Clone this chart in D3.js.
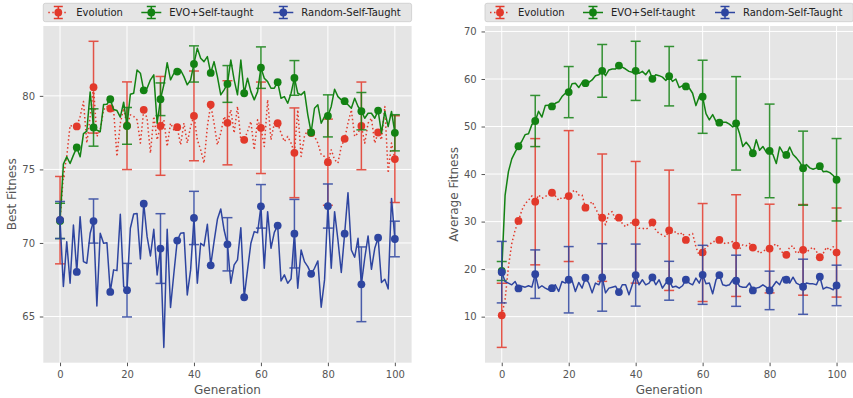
<!DOCTYPE html>
<html>
<head>
<meta charset="utf-8">
<script src="https://cdn.jsdelivr.net/npm/d3@7"></script>
<style>
  body { margin: 0; background: #ffffff; }
  svg { font-family: "DejaVu Sans", sans-serif; }
</style>
</head>
<body>
<div id="chart"></div>
<script>
// generations on the x axis, markers every 5, error bars every 10
var generations = d3.range(0, 101);
var markerGens = d3.range(0, 101, 5);
var errorGens = [0, 10, 20, 30, 40, 50, 60, 70, 80, 90, 100];
var seriesNames = ["Evolution", "EVO+Self-taught", "Random-Self-Taught"];

var genTicks = [0, 20, 40, 60, 80, 100];
var bestTicks = [65, 70, 75, 80];
var avgTicks = [10, 20, 30, 40, 50, 60, 70];

// ---- Best fitness (left panel)
var bestEvolution = [
  71.55, 74.55, 75.86, 78.0, 77.9, 77.92, 78.6, 79.62, 76.79, 78.6,
  80.59, 77.24, 77.69, 79.05, 79.28, 79.14, 79.05, 75.88, 78.14, 79.16,
  77.97, 78.71, 78.6, 78.37, 76.79, 79.05, 78.48, 76.11, 78.6, 77.01,
  77.96, 78.37, 76.56, 78.14, 77.69, 77.87, 76.67, 78.14, 76.79, 77.92,
  78.64, 77.01, 76.33, 75.43, 77.92, 79.41, 78.14, 76.67, 77.47, 78.6,
  78.17, 79.05, 77.47, 79.28, 77.01, 77.01, 77.58, 78.26, 76.33, 78.37,
  77.83, 76.56, 79.73, 77.01, 78.14, 78.14, 77.47, 76.9, 77.24, 76.79,
  76.13, 79.05, 75.88, 77.24, 77.69, 77.47, 77.24, 76.79, 76.0, 75.88,
  75.49, 76.33, 75.66, 75.43, 76.56, 77.08, 78.14, 79.05, 77.24, 77.47,
  77.96, 76.79, 78.14, 78.48, 76.79, 77.51, 77.01, 79.28, 74.75, 76.79,
  75.7
];
var bestSelfTaught = [
  71.5, 75.36, 75.86, 75.4, 75.97, 76.49, 75.86, 77.44, 77.6, 80.27,
  77.85, 77.67, 77.56, 79.41, 79.43, 79.77, 79.07, 79.0, 78.55, 79.57,
  77.96, 80.11, 80.18, 81.76, 81.54, 80.38, 80.52, 81.09, 81.43, 78.14,
  79.77, 80.75, 82.26, 81.09, 81.54, 81.65, 81.76, 81.31, 80.75, 81.09,
  82.17, 83.24, 82.56, 82.33, 82.67, 81.56, 82.33, 81.31, 80.07, 80.41,
  80.81, 82.44, 81.09, 80.07, 82.44, 80.18, 81.2, 80.29, 79.73, 80.29,
  81.92, 81.2, 80.97, 80.52, 80.52, 80.93, 79.84, 79.95, 79.5, 80.18,
  81.22, 80.18, 80.07, 80.29, 78.71, 77.51, 79.16, 79.39, 78.14, 78.6,
  78.64, 79.28, 80.45, 79.95, 79.73, 79.64, 79.39, 79.16, 79.84, 79.28,
  78.96, 78.48, 78.82, 78.82, 78.48, 79.0, 77.47, 78.94, 77.92, 78.94,
  77.49
];
var bestRandom = [
  71.56, 67.04, 70.09, 67.26, 71.22, 68.03, 71.79, 68.73, 68.62, 70.66,
  71.49, 65.72, 70.66, 69.98, 70.02, 66.67, 68.17, 68.12, 71.95, 67.04,
  66.79, 71.0, 71.97, 72.01, 68.91, 72.67, 70.43, 69.12, 70.93, 67.83,
  69.62, 62.9, 70.93, 65.61, 67.94, 70.16, 70.66, 70.7, 66.47, 68.17,
  71.7, 67.26, 69.98, 69.8, 71.27, 68.48, 70.09, 71.61, 72.31, 70.88,
  69.91, 67.26, 68.51, 68.85, 71.04, 66.31, 68.17, 69.98, 70.77, 70.7,
  72.49, 68.28, 72.13, 69.64, 70.72, 71.18, 67.42, 67.83, 67.26, 67.56,
  70.63, 66.92, 69.52, 68.73, 68.39, 67.9, 68.28, 68.78, 65.63, 67.49,
  72.51, 68.28, 72.13, 70.2, 67.99, 70.63, 73.42, 69.52, 69.03, 70.32,
  67.19, 68.96, 70.48, 68.21, 69.64, 70.36, 67.31, 67.53, 66.88, 73.03,
  70.27
];
var bestEvolutionErr = [2.97, 3.12, 2.98, 3.36, 3.05, 2.86, 3.11, 3.05, 2.93, 2.98, 2.95];
var bestSelfTaughtErr = [1.2, 1.27, 1.25, 1.11, 1.23, 1.25, 1.41, 1.18, 1.43, 1.27, 1.23];
var bestRandomErr = [1.26, 1.5, 1.82, 2.37, 1.81, 1.81, 1.48, 2.33, 1.5, 2.54, 1.21];

// ---- Average fitness (right panel)
var avgEvolution = [
  10.28, 13.6, 20.5, 25.4, 28.2, 30.13, 32.4, 33.8, 34.5, 35.4,
  34.18, 35.6, 34.9, 35.2, 35.9, 36.07, 35.4, 34.5, 35.1, 34.9,
  35.37, 36.3, 36.6, 35.6, 35.6, 32.92, 33.5, 34.2, 32.8, 31.4,
  30.82, 29.3, 31.7, 32.1, 30.3, 30.82, 29.6, 28.9, 29.6, 29.8,
  29.85, 28.6, 28.6, 28.4, 28.8, 29.85, 28.2, 27.5, 27.2, 26.8,
  28.17, 27.5, 27.9, 27.2, 27.7, 26.14, 27.2, 27.5, 24.7, 22.8,
  23.49, 24.6, 25.1, 25.8, 25.8, 26.14, 25.6, 25.3, 25.6, 25.8,
  24.95, 24.2, 25.1, 24.9, 25.4, 24.54, 24.2, 23.3, 23.7, 24.2,
  24.33, 24.9, 25.3, 24.4, 23.3, 23.0, 24.7, 24.9, 23.3, 23.7,
  24.05, 23.5, 24.2, 24.6, 23.7, 22.5, 23.3, 24.6, 23.9, 24.7,
  23.49
];
var avgSelfTaught = [
  19.6, 35.5, 40.5, 43.2, 44.6, 45.85, 46.9, 48.3, 48.5, 50.4,
  51.16, 53.2, 52.0, 54.4, 54.5, 54.23, 54.9, 55.2, 56.3, 57.0,
  57.24, 59.0, 59.1, 58.2, 59.3, 59.13, 59.3, 59.8, 60.7, 60.9,
  61.71, 60.7, 61.9, 62.1, 62.1, 62.83, 62.5, 62.1, 61.6, 61.4,
  61.71, 61.2, 61.6, 60.9, 61.9, 60.04, 60.9, 60.7, 60.4, 59.7,
  60.59, 59.5, 60.0, 58.2, 58.6, 58.43, 58.1, 57.0, 54.4, 56.3,
  56.26, 52.7, 51.4, 52.5, 51.1, 50.81, 50.9, 50.9, 50.5, 49.9,
  50.67, 48.6, 45.8, 46.7, 45.8, 44.38, 47.2, 45.0, 45.8, 44.6,
  44.87, 44.1, 42.2, 45.7, 44.5, 44.03, 45.7, 44.1, 43.4, 42.5,
  41.24, 42.0, 41.3, 41.0, 41.3, 41.66, 40.5, 40.6, 40.3, 39.7,
  38.8
];
var avgRandom = [
  19.36, 17.4, 17.06, 16.7, 17.4, 15.94, 16.4, 16.2, 16.5, 16.2,
  18.94, 16.0, 16.5, 16.0, 15.66, 16.0, 16.7, 15.3, 17.4, 17.06,
  17.76, 17.6, 15.3, 17.2, 16.0, 18.18, 17.06, 15.0, 17.06, 16.7,
  18.25, 15.0, 16.0, 16.2, 16.4, 15.17, 16.7, 16.7, 14.6, 16.7,
  18.74, 16.7, 17.76, 16.7, 17.06, 18.25, 16.7, 17.76, 16.0, 17.06,
  17.55, 16.2, 16.4, 16.0, 16.5, 17.76, 17.06, 16.7, 18.1, 17.06,
  18.8, 16.9, 17.06, 14.8, 17.76, 18.74, 16.7, 16.5, 16.7, 17.76,
  17.55, 16.4, 16.2, 16.2, 17.06, 15.52, 16.0, 16.2, 16.7, 16.2,
  15.52, 16.4, 17.4, 16.7, 18.3, 17.76, 17.06, 18.3, 17.06, 16.7,
  16.29, 17.06, 16.9, 16.9, 16.7, 18.39, 15.8, 16.2, 16.0, 15.66,
  16.57
];
var avgEvolutionErr = [6.75, 13.28, 13.77, 13.4, 12.8, 12.66, 10.31, 10.7, 9.33, 9.54, 9.37];
var avgSelfTaughtErr = [2.0, 5.38, 5.38, 5.55, 6.22, 6.25, 7.69, 9.83, 9.85, 7.79, 8.67];
var avgRandomErr = [6.47, 5.1, 6.98, 7.1, 6.53, 4.09, 6.21, 5.38, 4.05, 5.8, 4.26];

// styles
var colors = ["#E2392B", "#138213", "#2E45A0"];
var dashes = ["1.5,2.5", null, null];
var textColor = "#555555";

var svgWidth = 853;
var svgHeight = 398;
var plotTop = 26;
var plotHeight = 336.7;
var plotWidth = 368.3;

var svg = d3.select("#chart")
  .append("svg")
  .attr("width", svgWidth)
  .attr("height", svgHeight);

function drawPanel(left, label, seriesList, errList, yTicks) {
  var g = svg.append("g")
    .attr("transform", "translate(" + left + "," + plotTop + ")");

  var x = d3.scaleLinear().domain([-5, 105]).range([0, plotWidth]);

  // matplotlib style autoscale: data + error bars, 5% margin
  var lo = Infinity, hi = -Infinity;
  seriesList.forEach(function(s, i) {
    lo = Math.min(lo, d3.min(s));
    hi = Math.max(hi, d3.max(s));
    errorGens.forEach(function(gen, j) {
      lo = Math.min(lo, s[gen] - errList[i][j]);
      hi = Math.max(hi, s[gen] + errList[i][j]);
    });
  });
  var pad = (hi - lo) * 0.05;
  var y = d3.scaleLinear().domain([lo - pad, hi + pad]).range([plotHeight, 0]);

  g.append("rect")
    .attr("width", plotWidth)
    .attr("height", plotHeight)
    .attr("fill", "#E5E5E5");

  // grid
  g.selectAll(".vgrid").data(genTicks).enter().append("line")
    .attr("x1", function(d) { return x(d); })
    .attr("x2", function(d) { return x(d); })
    .attr("y1", 0).attr("y2", plotHeight)
    .attr("stroke", "#ffffff").attr("stroke-width", 1);
  g.selectAll(".hgrid").data(yTicks).enter().append("line")
    .attr("y1", function(d) { return y(d); })
    .attr("y2", function(d) { return y(d); })
    .attr("x1", 0).attr("x2", plotWidth)
    .attr("stroke", "#ffffff").attr("stroke-width", 1);

  // axes
  var xAxis = g.append("g")
    .attr("transform", "translate(0," + plotHeight + ")")
    .call(d3.axisBottom(x).tickValues(genTicks).tickSize(3.5).tickPadding(4.5));
  var yAxis = g.append("g")
    .call(d3.axisLeft(y).tickValues(yTicks).tickSize(3.5).tickPadding(4.8));
  [xAxis, yAxis].forEach(function(ax) {
    ax.select(".domain").remove();
    ax.selectAll("line").attr("stroke", textColor);
    ax.selectAll("text")
      .attr("fill", textColor)
      .style("font-size", "10px")
      .style("font-family", "DejaVu Sans");
  });

  // series: line, error bars, markers
  seriesList.forEach(function(s, i) {
    var line = d3.line()
      .x(function(d) { return x(d); })
      .y(function(d) { return y(s[d]); });

    var path = g.append("path")
      .datum(generations)
      .attr("d", line)
      .attr("fill", "none")
      .attr("stroke", colors[i])
      .attr("stroke-width", 1.5)
      .attr("stroke-linejoin", "round");
    if (dashes[i]) path.attr("stroke-dasharray", dashes[i]);

    var bars = g.append("g").attr("opacity", 0.85);
    errorGens.forEach(function(gen, j) {
      var e = errList[i][j];
      var cx = x(gen);
      bars.append("line")
        .attr("x1", cx).attr("x2", cx)
        .attr("y1", y(s[gen] - e)).attr("y2", y(s[gen] + e))
        .attr("stroke", colors[i]).attr("stroke-width", 1.5);
      [s[gen] - e, s[gen] + e].forEach(function(v) {
        bars.append("line")
          .attr("x1", cx - 5).attr("x2", cx + 5)
          .attr("y1", y(v)).attr("y2", y(v))
          .attr("stroke", colors[i]).attr("stroke-width", 1.5);
      });
    });

    g.selectAll(".m" + i)
      .data(markerGens)
      .enter()
      .append("circle")
      .attr("cx", function(d) { return x(d); })
      .attr("cy", function(d) { return y(s[d]); })
      .attr("r", 3.9)
      .attr("fill", colors[i]);
  });

  // axis labels
  g.append("text")
    .attr("x", plotWidth / 2)
    .attr("y", plotHeight + 27.5)
    .attr("dy", "0.35em")
    .attr("text-anchor", "middle")
    .attr("fill", textColor)
    .style("font-size", "12px")
    .text("Generation");

  g.append("text")
    .attr("transform", "translate(" + (label.x - left) + "," + (plotHeight / 2) + ") rotate(-90)")
    .attr("dy", "0.35em")
    .attr("text-anchor", "middle")
    .attr("fill", textColor)
    .style("font-size", "12px")
    .text(label.text);

  // legend (expanded across the top of the axes)
  var leg = svg.append("g")
    .attr("transform", "translate(" + left + ",3.3)");
  leg.append("rect")
    .attr("width", plotWidth)
    .attr("height", 18.4)
    .attr("rx", 2)
    .attr("fill", "#E5E5E5")
    .attr("stroke", "#CCCCCC")
    .attr("stroke-width", 0.8);
  var textX = [33, 126, 258];
  seriesNames.forEach(function(name, i) {
    var hx = textX[i] - 28;
    var cy = 9.2;
    var item = leg.append("g");
    var hl = item.append("line")
      .attr("x1", hx).attr("x2", hx + 20)
      .attr("y1", cy).attr("y2", cy)
      .attr("stroke", colors[i]).attr("stroke-width", 1.5);
    if (dashes[i]) hl.attr("stroke-dasharray", dashes[i]);
    item.append("line")
      .attr("x1", hx + 10).attr("x2", hx + 10)
      .attr("y1", cy - 6).attr("y2", cy + 6)
      .attr("stroke", colors[i]).attr("stroke-width", 1.5);
    [cy - 6, cy + 6].forEach(function(v) {
      item.append("line")
        .attr("x1", hx + 5.5).attr("x2", hx + 14.5)
        .attr("y1", v).attr("y2", v)
        .attr("stroke", colors[i]).attr("stroke-width", 1.5);
    });
    item.append("circle")
      .attr("cx", hx + 10).attr("cy", cy).attr("r", 3.9)
      .attr("fill", colors[i]);
    item.append("text")
      .attr("x", textX[i])
      .attr("y", cy)
      .attr("dy", "0.35em")
      .attr("fill", "#222222")
      .style("font-size", "10px")
      .text(name);
  });
}

drawPanel(43.3, { x: 12, text: "Best Fitness" },
  [bestEvolution, bestSelfTaught, bestRandom],
  [bestEvolutionErr, bestSelfTaughtErr, bestRandomErr],
  bestTicks);

drawPanel(485, { x: 454, text: "Average Fitness" },
  [avgEvolution, avgSelfTaught, avgRandom],
  [avgEvolutionErr, avgSelfTaughtErr, avgRandomErr],
  avgTicks);
</script>
</body>
</html>
